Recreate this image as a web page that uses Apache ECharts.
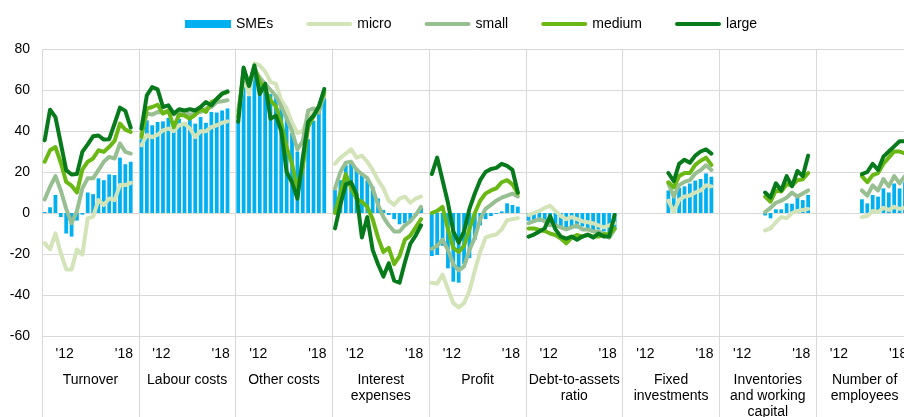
<!DOCTYPE html>
<html><head><meta charset="utf-8">
<script src="https://cdn.jsdelivr.net/npm/echarts@6/dist/echarts.min.js"></script>
<style>html,body{margin:0;padding:0;background:#fff}#c{width:904px;height:417px}</style>
</head><body><div id="c"></div>
<script>
const groups = ['Turnover', 'Labour costs', 'Other costs', 'Interest\nexpenses', 'Profit',
  'Debt-to-assets\nratio', 'Fixed\ninvestments', 'Inventories\nand working\ncapital', 'Number of\nemployees'];
// 17 half-year periods per group plus one empty spacer slot
const periodTicks = ['', '', '', '', "'12", '', '', '', '', '', '', '', '', '', '', "'18", '', ''];

const smes = [
  [0.5, 2.8, 8.8, -2, -10, -11.5, -3.7, -0.8, 10, 9.2, 16.9, 16, 18.8, 18.5, 27, 23.8, 25],
  [36, 45.2, 42.8, 44.4, 44.7, 46.4, 43.6, 46, 44.4, 46, 43.6, 46.8, 44, 49.3, 49, 50, 51],
  [45.5, 70, 57, 67, 63, 60, 58, 57, 52, 48, 39, 30, 27, 36, 45, 51, 56],
  [11.2, 16, 23.3, 24, 21.7, 19.3, 16, 12.8, 7.1, 1.5, -1, -3, -5.5, -5, -3.5, -1.5, 2.5],
  [-21, -20.5, -16, -27, -33.5, -34, -25, -22, -13, -6, -3, -1.5, -0.5, 0.8, 4.7, 3.9, 3.1],
  [-3.8, -4.5, -4.2, -4.5, -6.6, -6.6, -7.5, -7.5, -6.6, -7.5, -6.6, -7.5, -8.3, -8, -9, -10, -8],
  [11, 10, 12.3, 13, 14.4, 15.8, 16.6, 19.3, 17.7],
  [-1.2, -2.6, 1.8, 1.8, 4.7, 4.5, 8, 6.3, 8.8],
  [6.7, 4.7, 8.8, 8, 12, 10, 14.4, 12, 15]
];
const micro = [
  [-14.7, -17.7, -9.9, -19.6, -27.5, -27.5, -17.8, -20.3, -2.6, -1.8, 6.3, 3.9, 7.1, 6.3, 13.6, 13.6, 14.7],
  [33, 38, 37, 38.2, 40.3, 41.2, 39.9, 42.8, 43.6, 41.2, 37, 39.9, 39.9, 41.9, 42.8, 44, 44.7],
  [47, 66, 58, 73, 72, 69, 64, 63, 55, 51, 44, 39, 40, 47, 49, 52, 57],
  [24, 27, 29, 31, 27, 28, 25, 21, 16, 12, 6, 4, 7, 8, 5, 7, 8],
  [-34, -34.5, -30, -37, -44, -46, -44, -38, -28, -19, -12, -11, -10.5, -8, -3.5, -3, -2.5],
  [-1, 0, 1, 2.5, 3.5, 1, -1.5, -3, -2, -3, -4, -4.5, -5, -6, -7, -6, -5],
  [6, 0.5, 6.5, 8, 8.5, 10, 11, 13.5, 13],
  [-8.5, -7.5, -4.5, -2, -2.5, 0, 1, 1.5, 2],
  [-2, -1.5, 1, 0.5, 2.5, 1.5, 3, 2, 2.5]
];
const small = [
  [6.6, 12.8, 18, 11, 2, -5, 1, 12, 16.9, 16.9, 20.9, 25, 27.4, 26.6, 33.9, 29.8, 29],
  [38.7, 48.5, 48, 49.3, 49, 49.3, 48, 49, 49, 48, 48.5, 49.3, 50.9, 51.7, 54.1, 54.5, 55],
  [50, 67, 62, 70, 66, 63, 60, 57, 52, 46, 40, 31, 35, 50, 51, 49, 58],
  [12, 20, 24.5, 25, 21, 19, 17, 12, 4, -2, -6, -9, -9, -6, -4, -1, 3],
  [-17.5, -16, -13, -18, -25, -28, -26, -18, -12, -3, 2, 4, 6, 7.5, 8.5, 9.5, 8],
  [-5, -4, -3, -4, -6, -6, -7, -8, -7, -6, -8, -8, -9, -9, -10, -12, -8],
  [14.4, 8, 13.6, 15.2, 16, 19.3, 20.9, 23.3, 21],
  [0.5, 2.5, 5, 6, 7.5, 10, 8, 9.5, 11],
  [11, 8.5, 13.5, 11, 16.5, 13, 18, 14.5, 18]
];
const medium = [
  [25, 30.6, 32.2, 24.5, 15.2, 13.3, 10, 21.2, 25, 26.6, 30.6, 29.8, 32.3, 35.2, 43.6, 40.7, 39.5],
  [37, 50.9, 51.7, 52.8, 48.5, 50, 41.9, 47.9, 47.6, 46, 47.9, 50.9, 49.3, 54.1, 55.4, 58.2, 59],
  [47, 70, 63, 71, 64, 60, 55, 52, 44, 32, 24, 12, 22, 42, 47, 52, 59],
  [0, 10, 19, 12, 7, 5.5, 3, -3, -12, -19, -17, -25, -21, -13, -11, -7, -3],
  [0, 1, 3, -8, -17, -19, -16, -8, 0, 6, 9.5, 11, 12, 15, 16, 14, 9.5],
  [-7.5, -7.5, -8.3, -8.8, -10, -10.8, -12.4, -14.8, -12, -10.7, -11.5, -10.7, -11.5, -11.5, -10.4, -10.4, -7.5],
  [15, 12.5, 18, 19.5, 19.5, 23.5, 25.5, 27, 23.5],
  [8, 5.5, 11, 10.5, 14, 13.5, 16, 16.5, 19.5],
  [18, 15, 18.5, 19.5, 24, 27, 30, 30, 29]
];
const large = [
  [35.5, 50.4, 46.8, 33.9, 20.9, 18.8, 19, 29.8, 33.5, 37.4, 37.8, 35.8, 36, 43.6, 51.4, 49.8, 41.7],
  [41.2, 57.4, 61.4, 60.3, 51.7, 52.5, 48.5, 50.6, 50, 50.6, 50, 51.7, 54.1, 52.5, 55.7, 58.2, 59.3],
  [44.5, 71, 62, 72, 58, 63, 46, 47.5, 40, 20, 15, 7, 27, 44.5, 47.5, 52, 60.5],
  [-7.5, 4, 14, 15, 9, -12, -2, -18, -25, -31, -24.5, -33, -34, -24, -15, -11, -6],
  [19, 27, 16, 5, -9, -14.5, -9, 2, 9.5, 16, 20, 21.5, 22, 24, 23, 21, 10],
  [-11.5, -10.5, -9, -7.5, -1.5, -8, -11.5, -12.5, -11.5, -13, -11.5, -10.5, -12, -10, -11.5, -11.5, -1],
  [19.5, 15.5, 24, 26, 24.5, 28, 30, 31, 29],
  [10, 7.5, 14.5, 11, 18, 13, 20.5, 18, 28],
  [19, 20, 24, 21, 27.5, 30, 32.5, 35, 35]
];

const SLOTS = periodTicks.length;
const NPER = SLOTS - 1;
function flat(series) {
  const out = [];
  series.forEach(a => {
    const padded = Array(NPER - a.length).fill(null).concat(a);
    padded.forEach(v => out.push(v));
    out.push(null);
  });
  return out;
}
const cats = [];
groups.forEach((g, gi) => periodTicks.forEach((t, i) => cats.push(gi + '_' + i)));

const FONT = 'Liberation Sans, Arial, sans-serif';
const FS = 14;
const GRID = '#d9d9d9';
// legend line icon: 4px-thick rounded bar inside an 8px-tall box
const LINE_ICON = 'path://M0,0L0,0M2,2H44A2,2 0 0 1 44,6H2A2,2 0 0 1 2,2ZM46,8L46,8';
function lineSeries(name, data, color) {
  return {
    name, type: 'line', data: flat(data), xAxisIndex: 0, yAxisIndex: 0,
    showSymbol: false, symbol: 'none', connectNulls: false,
    lineStyle: { width: 4, color, cap: 'round', join: 'round' },
    itemStyle: { color }, emphasis: { disabled: true }
  };
}

const chart = echarts.init(document.getElementById('c'), null, { renderer: 'canvas' });
chart.setOption({
  animation: false,
  textStyle: { fontFamily: FONT },
  legend: {
    left: 180, top: 12, itemWidth: 46, itemHeight: 8, itemGap: 33,
    textStyle: { fontSize: FS, color: '#000', fontFamily: FONT },
    data: [{ name: 'SMEs', icon: 'rect' },
      { name: 'micro', icon: LINE_ICON }, { name: 'small', icon: LINE_ICON },
      { name: 'medium', icon: LINE_ICON }, { name: 'large', icon: LINE_ICON }]
  },
  grid: { left: 42, top: 49, width: 871, height: 287, containLabel: false, outerBoundsMode: 'none' },
  xAxis: [
    {
      type: 'category', data: cats, position: 'bottom', boundaryGap: true,
      axisLine: { show: false }, axisTick: { show: false }, splitLine: { show: false },
      axisLabel: {
        interval: 0, margin: 10, fontSize: FS, lineHeight: 16, color: '#000', fontFamily: FONT,
        formatter: (v, i) => {
          const t = periodTicks[i % SLOTS];
          return t ? '{a|' + t + '}' : '';
        },
        rich: {
          a: { fontSize: FS, color: '#000', fontFamily: FONT, padding: [0, 3, 0, 0] }
        }
      }
    },
    {
      type: 'category', data: groups, position: 'bottom', boundaryGap: true,
      axisLine: { show: false },
      axisTick: { show: true, length: 81, interval: 0, lineStyle: { color: GRID, width: 1 } },
      splitLine: { show: true, interval: 0, lineStyle: { color: GRID, width: 1 } },
      axisLabel: { interval: 0, margin: 36, fontSize: FS, lineHeight: 16, color: '#000', fontFamily: FONT }
    }
  ],
  yAxis: {
    type: 'value', min: -60, max: 80, interval: 20,
    axisLine: { show: false }, axisTick: { show: false },
    splitLine: { lineStyle: { color: GRID, width: 1 } },
    axisLabel: { fontSize: FS, color: '#000', margin: 12, fontFamily: FONT }
  },
  series: [
    { name: 'SMEs', type: 'bar', data: flat(smes), xAxisIndex: 0, barWidth: '70%',
      itemStyle: { color: '#00b0f0' }, emphasis: { disabled: true } },
    lineSeries('micro', micro, '#d2e4b8'),
    lineSeries('small', small, '#97bf92'),
    lineSeries('medium', medium, '#6ab813'),
    lineSeries('large', large, '#077a1c')
  ]
});
</script></body></html>
